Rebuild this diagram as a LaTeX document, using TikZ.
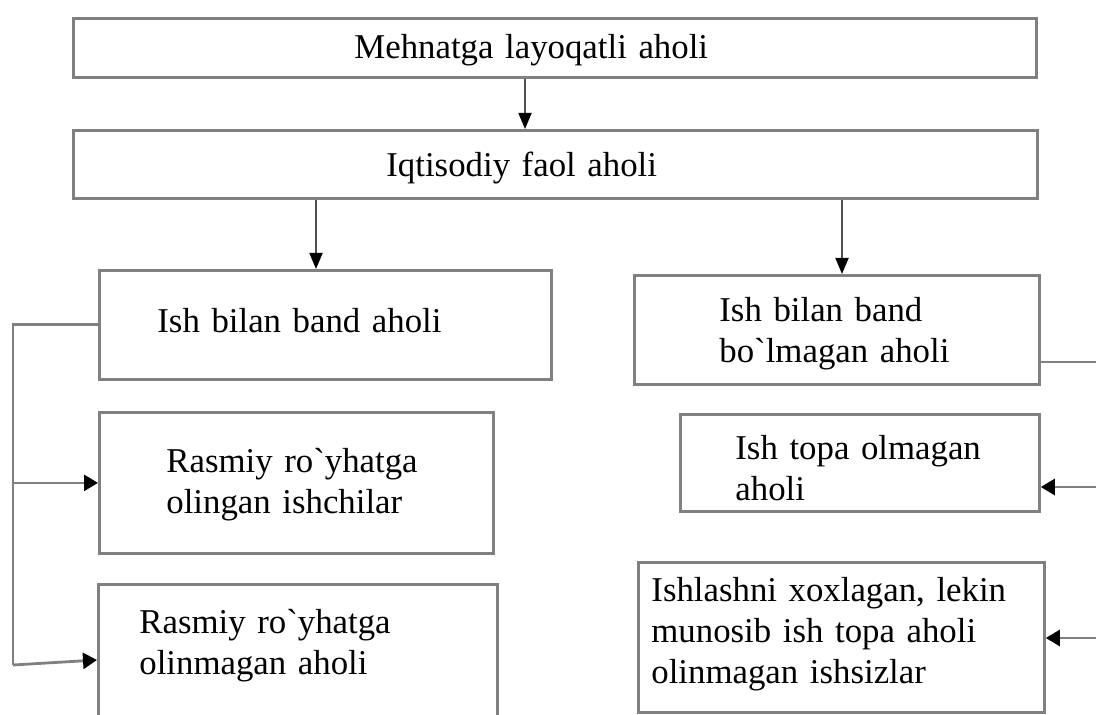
\documentclass[tikz,border=0pt]{standalone}
\usepackage{fontspec}
\setmainfont{Liberation Serif}
\usetikzlibrary{arrows.meta}

\definecolor{framegray}{HTML}{808080}
\definecolor{stemgray}{HTML}{505050}

\tikzset{
  box/.style={draw=framegray, line width=1.4pt, anchor=north west, align=left,
    inner sep=0pt, font=\fontsize{17.4}{20.5}\selectfont},
  pad/.style={execute at begin node={\leftskip=#1\relax}},
  down/.style={draw=stemgray, line width=0.9pt, -{Triangle[length=8pt,width=6.5pt,color=black]}},
  feed/.style={draw=framegray, line width=1.4pt},
  tip/.style={-{Triangle[length=7pt,width=8pt,color=black]}},
}

\begin{document}
\begin{tikzpicture}[x=0.5pt, y=-0.5pt]
	\useasboundingbox (0,0) rectangle (1096,715);
	% top boxes
	\node[box, text width=481.5pt, text height=20pt, text depth=9.5pt, pad=140.5pt] (mehnat) at (72,17) {Mehnatga layoqatli aholi};
	\node[box, text width=482pt, text height=23pt, text depth=11pt, pad=156.5pt] (faol) at (72,129) {Iqtisodiy faol aholi};
	% left column
	\node[box, text width=226pt, text height=31pt, text depth=23.5pt, pad=29pt] (band) at (98,269) {Ish bilan band aholi};
	\node[box, text width=197pt, text height=30pt, text depth=40.5pt, pad=33.5pt] (olingan) at (98,411) {Rasmiy ro\textasciigrave yhatga\\olingan ishchilar};
	\node[box, text width=199.5pt, text height=24.5pt, text depth=84pt, pad=20.5pt] (olinmagan) at (97,583) {Rasmiy ro\textasciigrave yhatga\\olinmagan aholi};
	% right column
	\node[box, text width=202.5pt, text height=23pt, text depth=31.5pt, pad=42.5pt] (bolmagan) at (633,274) {Ish bilan band\\bo\textasciigrave lmagan aholi};
	\node[box, text width=179.5pt, text height=22.5pt, text depth=26pt, pad=27.5pt] (topa) at (679,413) {Ish topa olmagan\\aholi};
	\node[box, text width=203pt, text height=19.5pt, text depth=55.5pt, pad=6.5pt] (xoxlagan) at (637,561) {Ishlashni xoxlagan, lekin\\munosib ish topa aholi\\olinmagan ishsizlar};

	\draw[down] (525,0 |- mehnat.south) -- (525,0 |- faol.north);
	\draw[down] (316,0 |- faol.south) -- (316,0 |- band.north);
	\draw[down] (842,0 |- faol.south) -- (842,0 |- bolmagan.north);

	% left feed
	\coordinate (lbus) at (13,665);
	\draw[feed] (band.west) -| (lbus);
	\draw[feed, tip] (lbus |- olingan.west) -- (olingan.west);
	\draw[feed, tip] (lbus) -- (olinmagan.west |- 0,660);

	% right feed, its bus runs past the edge
	\coordinate (rbus) at (1115,638);
	\draw[feed] (bolmagan.east |- 0,362) -| (rbus);
	\draw[feed, tip] (rbus |- 0,487) -- (topa.east |- 0,487);
	\draw[feed, tip] (rbus) -- (xoxlagan.east |- rbus);
\end{tikzpicture}
\end{document}
